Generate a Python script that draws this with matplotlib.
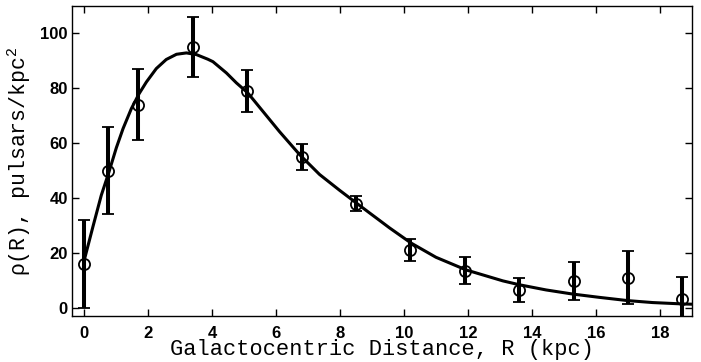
import matplotlib
matplotlib.use("Agg")
import matplotlib.pyplot as plt

# Data points (R in kpc, density, symmetric error)
R_pts = [0.0, 0.75, 1.7, 3.4, 5.1, 6.8, 8.5, 10.2, 11.9, 13.6, 15.3, 17.0, 18.7]
rho_pts = [16.0, 50.0, 74.0, 95.0, 79.0, 55.0, 38.0, 21.0, 13.5, 6.5, 9.7, 11.0, 3.2]
rho_err = [16.0, 16.0, 13.0, 11.0, 7.5, 4.6, 2.7, 4.1, 5.0, 4.3, 7.0, 9.6, 8.1]

# Fitted curve values
curve_R = [0.0, 0.28, 0.54, 0.78, 1.01, 1.22, 1.48, 1.72, 1.95, 2.26, 2.57, 2.89,
           3.2, 3.51, 3.87, 4.03, 4.45, 4.76, 5.12, 5.59, 6.11, 6.74, 7.36, 7.99,
           8.51, 8.92, 9.23, 9.55, 10.22, 11.0, 11.94, 13.09, 13.6, 14.44, 15.27,
           16.1, 17.0, 17.77, 18.7, 19.0]
curve_rho = [17.0, 29.6, 41.0, 49.5, 58.3, 65.3, 72.6, 78.0, 82.3, 87.2, 90.5, 92.4,
             92.9, 92.3, 90.6, 89.7, 85.6, 82.0, 78.3, 71.6, 64.2, 55.8, 48.6, 42.8,
             38.2, 34.6, 31.9, 29.1, 23.6, 18.4, 13.8, 9.8, 8.4, 6.5, 5.0,
             3.8, 2.6, 1.9, 1.4, 1.3]

x_ticks = [0, 2, 4, 6, 8, 10, 12, 14, 16, 18]
y_ticks = [0, 20, 40, 60, 80, 100]

plt.rcParams['mathtext.default'] = 'regular'

fig = plt.figure(figsize=(7.01, 3.62), dpi=100)
ax = fig.add_axes([72/701, 1-316/362, (692-72)/701, (316-6)/362])

ax.plot(curve_R, curve_rho, color='black', lw=2.2, zorder=3,
        solid_joinstyle='round')
ax.errorbar(R_pts, rho_pts, yerr=rho_err, fmt='o', mfc='none', mec='black',
            ms=8, mew=1.3, ecolor='black', elinewidth=2.9, capsize=4.3,
            capthick=2.9, zorder=4)

ax.set_xlim(-0.375, 19.0)
ax.set_ylim(-3.0, 110.0)
ax.set_xticks(x_ticks)
ax.set_yticks(y_ticks)
ax.set_xticklabels([str(t) for t in x_ticks])
ax.set_yticklabels([str(t) for t in y_ticks])

ax.tick_params(direction='in', length=5, width=1, top=True, right=True)
ax.tick_params(axis='x', pad=7)
ax.tick_params(axis='y', pad=3)
for lab in ax.get_xticklabels() + ax.get_yticklabels():
    lab.set_fontfamily('Liberation Sans')
    lab.set_fontweight('bold')
    lab.set_fontsize(12)
for s in ax.spines.values():
    s.set_linewidth(1.0)

ax.set_xlabel('Galactocentric Distance, R (kpc)', family='Liberation Mono',
              fontsize=15.8, labelpad=-1)
ax.set_ylabel('ρ(R), pulsars/kpc$^{2}$', family='Liberation Mono',
              fontsize=15.5, labelpad=5)

fig.savefig('out.png', dpi=100)
